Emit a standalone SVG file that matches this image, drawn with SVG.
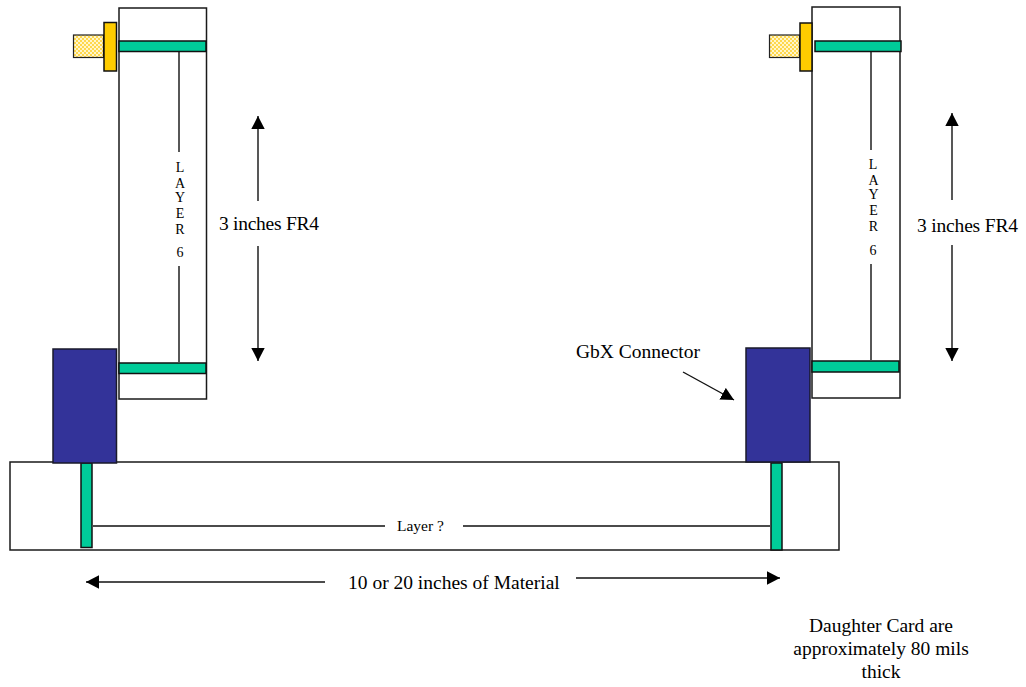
<svg xmlns="http://www.w3.org/2000/svg" width="1026" height="687" viewBox="0 0 1026 687">
<style>
.o{fill:#fff;stroke:#1a1a1a;stroke-width:1.5}
.g{fill:#00cc99;stroke:#111;stroke-width:1.5}
.y{fill:#ffcc00;stroke:#111;stroke-width:1.5}
.h{fill:url(#hatch);stroke:#222;stroke-width:1.2}
.b{fill:#333399;stroke:#1a1a2a;stroke-width:1.5}
.l{stroke:#111;stroke-width:1.4;fill:none}
.a{marker-end:url(#ah)}
text{font-family:"Liberation Serif","Times New Roman",serif;fill:#000}
.t{font-size:19.5px}
.s{font-size:14px;text-anchor:middle}
</style>
<defs>
<pattern id="hatch" width="4" height="4" patternUnits="userSpaceOnUse">
<rect width="4" height="4" fill="#fff6cc"/>
<rect width="2" height="2" fill="#ffd84d"/>
<rect x="2" y="2" width="2" height="2" fill="#ffd84d"/>
</pattern>
<marker id="ah" markerUnits="userSpaceOnUse" markerWidth="14" markerHeight="14" refX="13" refY="7" orient="auto">
<path d="M0,0.3 L13,7 L0,13.7 Z" fill="#000"/>
</marker>
</defs>
<g id="card-left">
<rect class="o" x="119" y="8" width="87.500" height="391"/>
<rect class="g" x="119" y="41" width="87" height="10.500"/>
<rect class="g" x="119" y="363" width="87" height="10.500"/>
</g>
<g id="bolt-left">
<rect class="h" x="73.500" y="35" width="30" height="22.500"/>
<rect class="y" x="104" y="22.500" width="12.500" height="48.500"/>
</g>
<g id="card-right">
<rect class="o" x="812" y="7" width="88" height="391"/>
<rect class="g" x="815" y="41" width="86" height="10.500"/>
<rect class="g" x="812" y="361" width="87" height="11"/>
</g>
<g id="bolt-right">
<rect class="h" x="769.500" y="35" width="30" height="22.500"/>
<rect class="y" x="800" y="23" width="12" height="48"/>
</g>
<g id="board">
<rect class="o" x="10" y="462" width="829" height="88"/>
<rect class="g" x="81" y="463" width="11" height="84.500"/>
<rect class="g" x="771" y="463" width="11" height="87"/>
</g>
<g id="connector-left"><rect class="b" x="53" y="349" width="63.500" height="114"/></g>
<g id="connector-right"><rect class="b" x="746" y="348" width="64" height="114"/></g>
<g id="connectors">
<path class="l" d="M179 52V152M179 266V362"/>
<path class="l" d="M871 52V150M871 264V360"/>
<path class="l" d="M93 526H385M463 526H770"/>
<path class="l a" d="M258 201V116"/>
<path class="l a" d="M258 246V361"/>
<path class="l a" d="M952 200V113"/>
<path class="l a" d="M952 245V361"/>
<path class="l a" d="M325 582H86"/>
<path class="l a" d="M576 578H780"/>
<path class="l a" d="M683 372L734 400"/>
</g>
<g id="label-layer-left">
<text class="s" x="180" y="172">L</text>
<text class="s" x="180" y="188">A</text>
<text class="s" x="180" y="202">Y</text>
<text class="s" x="180" y="218">E</text>
<text class="s" x="180" y="234">R</text>
<text class="s" x="180" y="257">6</text>
</g>
<g id="label-layer-right">
<text class="s" x="873" y="169">L</text>
<text class="s" x="873.500" y="185">A</text>
<text class="s" x="873.500" y="199">Y</text>
<text class="s" x="873.500" y="215">E</text>
<text class="s" x="873.500" y="231">R</text>
<text class="s" x="873" y="255">6</text>
</g>
<g id="labels">
<text class="t" x="219" y="230" textLength="100">3 inches FR4</text>
<text class="t" x="917" y="232" textLength="101">3 inches FR4</text>
<text class="t" x="576" y="358">GbX Connector</text>
<text x="397" y="531" font-size="15.500px">Layer ?</text>
<text class="t" x="348" y="589">10 or 20 inches of Material</text>
<text class="t" text-anchor="middle" x="881" y="632">Daughter Card are</text>
<text class="t" text-anchor="middle" x="881" y="655">approximately 80 mils</text>
<text class="t" text-anchor="middle" x="881" y="678">thick</text>
</g>
</svg>
